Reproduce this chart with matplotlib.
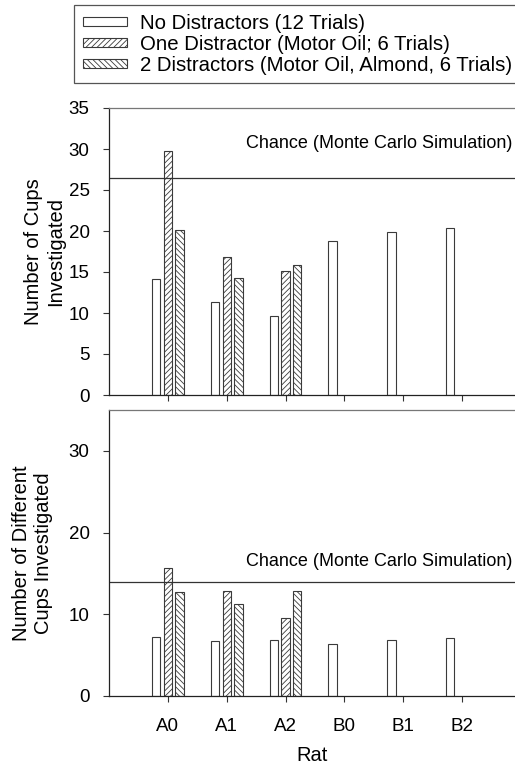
import numpy as np
import matplotlib
matplotlib.use('Agg')
import matplotlib.pyplot as plt

plt.rcParams['font.family'] = ['Liberation Sans', 'DejaVu Sans']
plt.rcParams['hatch.linewidth'] = 0.6

rats = ['A0', 'A1', 'A2', 'B0', 'B1', 'B2']
series_labels = ['No Distractors (12 Trials)',
                 'One Distractor (Motor Oil; 6 Trials)',
                 '2 Distractors (Motor Oil, Almond, 6 Trials)']

# number of cups investigated
cups_none = [14.2, 11.3, 9.6, 18.8, 19.9, 20.4]
cups_one = [29.8, 16.8, 15.1, np.nan, np.nan, np.nan]
cups_two = [20.1, 14.3, 15.9, np.nan, np.nan, np.nan]
cups_chance = 26.5

# number of different cups investigated
diff_none = [7.2, 6.7, 6.9, 6.4, 6.8, 7.1]
diff_one = [15.7, 12.8, 9.5, np.nan, np.nan, np.nan]
diff_two = [12.7, 11.2, 12.8, np.nan, np.nan, np.nan]
diff_chance = 13.9

hatches = [None, '//////', '\\\\\\\\\\\\']
offsets = [-0.2, 0.0, 0.2]
bar_w = 0.14
edge = '#3a3a3a'

fig = plt.figure(figsize=(5.15, 7.7), dpi=100)
ax1 = fig.add_axes([109/515, 1-395/770, 406/515, 287/770])
ax2 = fig.add_axes([109/515, 1-696/770, 406/515, 286/770])

x = np.arange(len(rats))


def draw_panel(ax, series, chance, text_y, yticks, ylabel, labelx):
    bars = []
    for vals, off, h in zip(series, offsets, hatches):
        b = ax.bar(x + off, vals, width=bar_w, color='white', edgecolor=edge,
                   linewidth=0.8, hatch=h)
        bars.append(b)
    ax.axhline(chance, color='#333333', linewidth=0.9)
    ax.text(5.85, text_y, 'Chance (Monte Carlo Simulation)', ha='right',
            va='center', fontsize=13)
    ax.set_xlim(-1, 5.9)
    ax.set_ylim(0, 35)
    ax.set_yticks(yticks)
    ax.set_xticks(x)
    ax.spines['right'].set_visible(False)
    for s in ['left', 'bottom']:
        ax.spines[s].set_color('#222222')
        ax.spines[s].set_linewidth(0.9)
    ax.spines['top'].set_color('#777777')
    ax.spines['top'].set_linewidth(0.9)
    ax.tick_params(direction='out', length=4, width=0.8, labelsize=13.5,
                   color='#333333')
    ax.tick_params(axis='y', pad=10)
    ax.tick_params(axis='x', pad=12)
    ax.set_ylabel(ylabel, fontsize=14.5)
    ax.yaxis.set_label_coords(labelx, 0.5)
    return bars


bars = draw_panel(ax1, [cups_none, cups_one, cups_two], cups_chance, 30.7,
                  [0, 5, 10, 15, 20, 25, 30, 35],
                  'Number of Cups\nInvestigated', -0.108)
ax1.set_xticklabels([])

draw_panel(ax2, [diff_none, diff_one, diff_two], diff_chance, 16.5,
           [0, 10, 20, 30],
           'Number of Different\nCups Investigated', -0.138)
ax2.set_xticklabels(rats)
ax2.set_xlabel('Rat', fontsize=14.5, labelpad=8)

leg = fig.legend(bars, series_labels, loc='upper left',
                 bbox_to_anchor=(74/515, 1-5/770), borderaxespad=0,
                 fontsize=14.7, frameon=True, fancybox=False, framealpha=1,
                 handlelength=2.2, handleheight=0.33, handletextpad=0.6,
                 labelspacing=0.1, borderpad=0.42)
leg.get_frame().set_edgecolor('#555555')
leg.get_frame().set_linewidth(0.9)

fig.savefig('out.png', dpi=100)
